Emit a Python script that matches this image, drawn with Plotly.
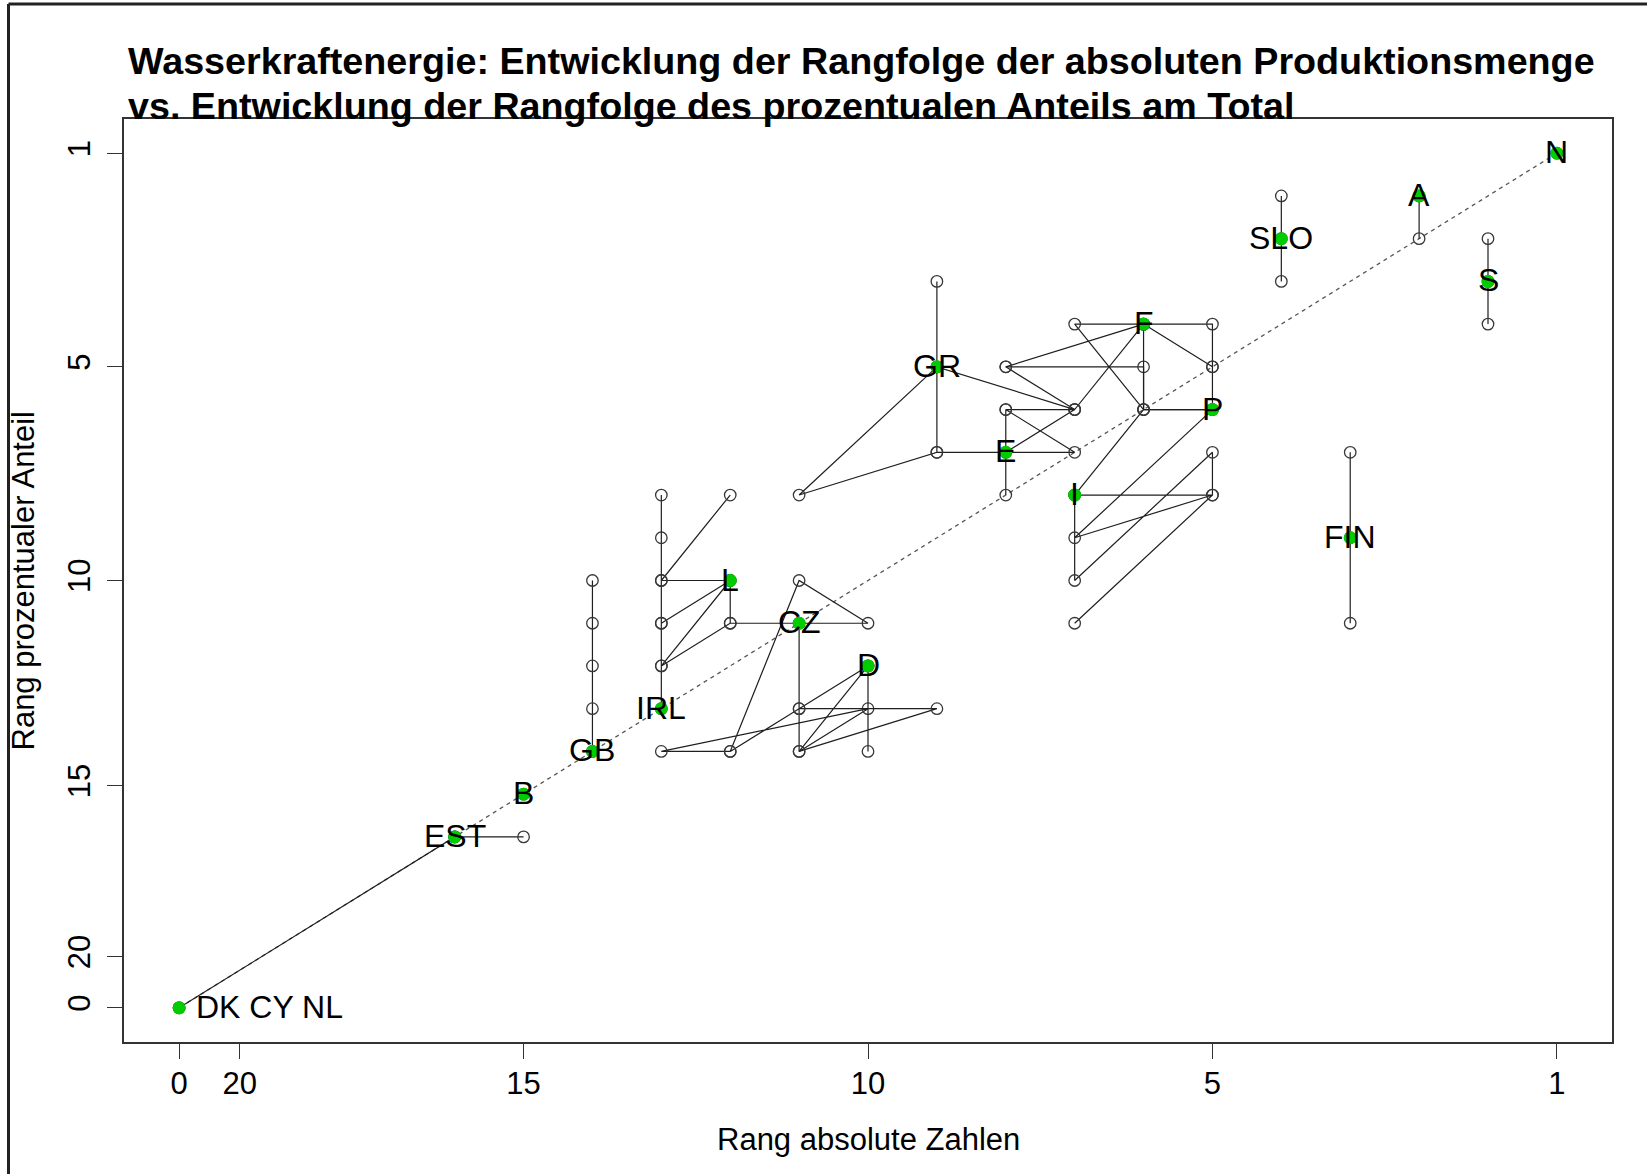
import plotly.graph_objects as go

# Rank positions: x = rank of absolute hydro production, y = rank of share of total production.
# Position 21 is used for countries without hydro production (tick label "0").
countries = ["N", "A", "SLO", "S", "F", "GR", "P", "E", "I", "FIN",
             "L", "CZ", "D", "IRL", "GB", "B", "EST", "DK CY NL"]
current_abs = [1, 3, 5, 2, 7, 10, 6, 9, 8, 4, 13, 12, 11, 14, 15, 16, 17, 21]
current_pct = [1, 2, 3, 4, 5, 6, 7, 8, 9, 10, 11, 12, 13, 14, 15, 16, 17, 21]

# Yearly (abs, pct) rank positions per country
path_N = [(1, 1)]
path_A = [(3, 3), (3, 2)]
path_SLO = [(5, 2), (5, 4), (5, 3)]
path_S = [(2, 3), (2, 5), (2, 4)]
path_F = [(9, 6), (7, 6), (7, 7), (8, 5), (6, 5), (6, 6), (7, 5)]
path_GR = [(10, 4), (10, 8), (12, 9), (10, 6), (8, 7)]
path_P = [(6, 6), (6, 7), (7, 7), (7, 5), (9, 6), (8, 7), (7, 5)]
path_E = [(10, 8), (8, 8), (9, 7), (9, 9), (9, 8), (8, 7), (9, 7)]
path_I = [(8, 12), (6, 9), (8, 10), (6, 7), (7, 7), (8, 9), (6, 9), (6, 8), (8, 11), (8, 9)]
path_FIN = [(4, 8), (4, 12), (4, 10)]
path_L = [(13, 9), (14, 11), (13, 11), (14, 13), (13, 12), (13, 11), (14, 12)]
path_CZ = [(13, 12), (11, 12), (12, 11), (13, 15), (12, 14), (12, 12), (12, 15), (11, 14), (14, 15), (13, 15)]
path_D = [(11, 15), (11, 13), (12, 14), (10, 14), (12, 15), (11, 13)]
path_IRL = [(14, 9), (14, 10), (14, 11), (14, 12), (14, 13), (14, 14)]
path_GB = [(15, 11), (15, 12), (15, 13), (15, 14), (15, 15)]
path_B = [(16, 16)]
path_EST = [(21, 21), (17, 17), (16, 17), (17, 17)]
path_DK = [(21, 21)]

paths = [path_N, path_A, path_SLO, path_S, path_F, path_GR, path_P, path_E, path_I,
         path_FIN, path_L, path_CZ, path_D, path_IRL, path_GB, path_B, path_EST, path_DK]

tick_pos_x = [1, 6, 11, 16, 20.12, 21]
tick_pos_y = [1, 6, 11, 15.8, 19.8, 21]
tick_text = ["1", "5", "10", "15", "20", "0"]

FONT = "Liberation Sans, Arial, sans-serif"
W, H = 1647, 1174
L_M, R_M, T_M, B_M = 124, 35, 119, 132
PW, PH = W - L_M - R_M, H - T_M - B_M


def px_x(px):
    return (px - L_M) / PW


def px_y(py):
    return (H - B_M - py) / PH


fig = go.Figure()

# diagonal reference line
fig.add_trace(go.Scatter(x=[1, 21], y=[1, 21], mode="lines",
                         line=dict(color="#555555", width=1.3, dash="4px,4px"),
                         hoverinfo="skip"))

# trajectories
for name, p in zip(countries, paths):
    xs = [a for a, _ in p]
    ys = [b for _, b in p]
    fig.add_trace(go.Scatter(
        x=xs, y=ys, mode="lines+markers", name=name,
        line=dict(color="#1f1f1f", width=1.2),
        marker=dict(symbol="circle-open", size=11.5, color="#383838",
                    line=dict(width=1.3, color="#383838")),
    ))

# current positions
fig.add_trace(go.Scatter(
    x=current_abs, y=current_pct, mode="markers",
    marker=dict(symbol="circle", size=13, color="#00CD00"),
))

# country labels, centred on the current position (last one placed to the right)
label_annotations = []
for i, (name, xa, ya) in enumerate(zip(countries, current_abs, current_pct)):
    right = i == len(countries) - 1
    label_annotations.append(dict(
        text=name, x=xa, y=ya, xref="x", yref="y",
        xanchor="left" if right else "center", yanchor="middle",
        xshift=15 if right else 0, yshift=1,
        showarrow=False, font=dict(family=FONT, size=32, color="black"),
    ))

axis_common = dict(
    showgrid=False, zeroline=False, showline=True, mirror=True,
    linecolor="#333333", linewidth=1.5,
    ticks="outside", ticklen=15, tickwidth=1.3, tickcolor="#333333",
    tickfont=dict(family=FONT, size=31, color="black"),
    ticktext=tick_text, tickmode="array",
)

fig.update_layout(
    width=W, height=H,
    margin=dict(l=L_M, r=R_M, t=T_M, b=B_M),
    paper_bgcolor="white", plot_bgcolor="white",
    showlegend=False,
    xaxis=dict(range=[21.8, 0.2], tickvals=tick_pos_x, ticklabelstandoff=-2, **axis_common),
    yaxis=dict(range=[21.8, 0.2], tickvals=tick_pos_y, tickangle=-90, ticklabelstandoff=5, **axis_common),
    annotations=label_annotations + [
        dict(text="<b>Wasserkraftenergie: Entwicklung der Rangfolge der absoluten Produktionsmenge</b>",
             x=px_x(126), y=px_y(61), xref="paper", yref="paper", xanchor="left", yanchor="middle",
             showarrow=False, font=dict(family=FONT, size=37.7, color="black")),
        dict(text="<b>vs. Entwicklung der Rangfolge des prozentualen Anteils am Total</b>",
             x=px_x(126), y=px_y(106), xref="paper", yref="paper", xanchor="left", yanchor="middle",
             showarrow=False, font=dict(family=FONT, size=37.7, color="black")),
        dict(text="Rang absolute Zahlen", x=0.5, y=px_y(1139), xref="paper", yref="paper",
             xanchor="center", yanchor="middle", showarrow=False,
             font=dict(family=FONT, size=31, color="black")),
        dict(text="Rang prozentualer Anteil", x=px_x(23), y=0.5, xref="paper", yref="paper",
             xanchor="center", yanchor="middle", textangle=-90, showarrow=False,
             font=dict(family=FONT, size=31, color="black")),
    ],
    shapes=[
        dict(type="line", xref="paper", yref="paper", x0=px_x(8.5), x1=px_x(8.5),
             y0=px_y(1200), y1=px_y(4), line=dict(color="#222222", width=3)),
        dict(type="line", xref="paper", yref="paper", x0=px_x(8.5), x1=px_x(1680),
             y0=px_y(4), y1=px_y(4), line=dict(color="#222222", width=3)),
    ],
)

fig.write_html("out.html")
